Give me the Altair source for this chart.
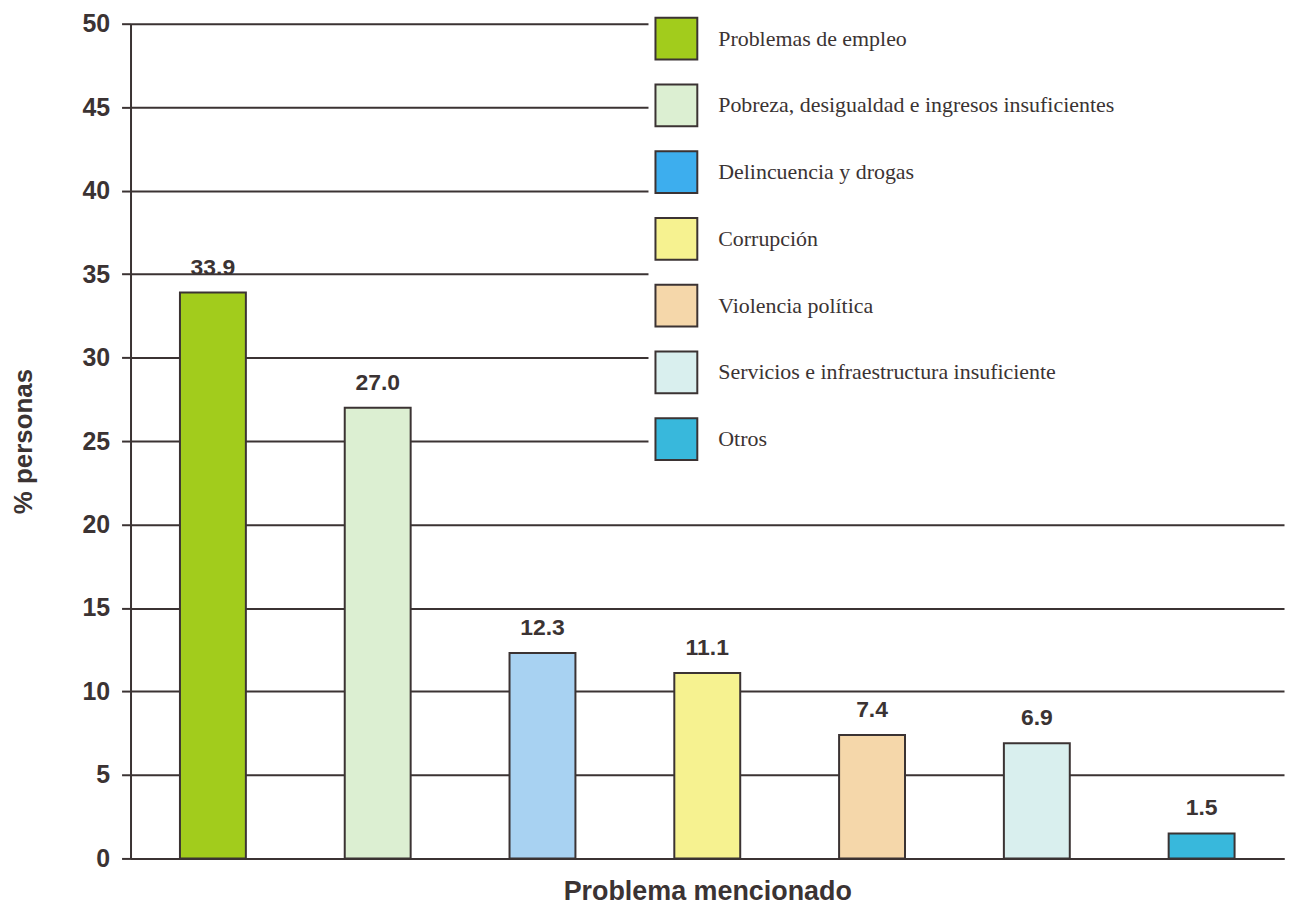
import altair as alt
import pandas as pd

categories = [
    "Problemas de empleo",
    "Pobreza, desigualdad e ingresos insuficientes",
    "Delincuencia y drogas",
    "Corrupción",
    "Violencia política",
    "Servicios e infraestructura insuficiente",
    "Otros",
]
values = [33.9, 27.0, 12.3, 11.1, 7.4, 6.9, 1.5]
bar_colors = ["#a2cc1c", "#dcefd2", "#a8d2f2", "#f6f290", "#f5d7aa", "#d9efee", "#38b8dc"]
legend_colors = ["#a2cc1c", "#dcefd2", "#3daeee", "#f6f290", "#f5d7aa", "#d9efee", "#38b8dc"]
labels = ["33.9", "27.0", "12.3", "11.1", "7.4", "6.9", "1.5"]

df = pd.DataFrame({"cat": categories, "val": values, "lab": labels})

ink = "#3b3333"

x = alt.X("cat:N", sort=categories,
          scale=alt.Scale(paddingInner=0.6, paddingOuter=0.3),
          axis=alt.Axis(title="Problema mencionado", labels=False, ticks=False,
                        domain=True, domainColor=ink, domainWidth=2,
                        titleFont="Liberation Sans", titleFontSize=27,
                        titleFontWeight="bold", titleColor=ink, titlePadding=20))
y = alt.Y("val:Q", scale=alt.Scale(domain=[0, 50], nice=False),
          axis=alt.Axis(title="% personas", values=list(range(0, 51, 5)),
                        grid=True, gridColor=ink, gridWidth=2, gridOpacity=1,
                        domainColor=ink, domainWidth=2, tickColor=ink, tickWidth=2,
                        tickSize=9, labelPadding=12, labelFont="Liberation Sans",
                        labelFontSize=25, labelFontWeight="bold", labelColor=ink,
                        titleFont="Liberation Sans", titleFontSize=26,
                        titleFontWeight="bold", titleColor=ink, titlePadding=46))

bars = alt.Chart(df).mark_bar(stroke=ink, strokeWidth=2).encode(
    x=x, y=y,
    color=alt.Color("cat:N", sort=categories,
                    scale=alt.Scale(domain=categories, range=bar_colors),
                    legend=None),
)

legend_layer = alt.Chart(df).mark_square(filled=True, opacity=0, size=1).encode(
    x=alt.X("cat:N", sort=categories), y="val:Q",
    color=alt.Color("cat:N", sort=categories,
                    scale=alt.Scale(domain=categories, range=legend_colors),
                    legend=alt.Legend(title=" ", titleOrient="right", titlePadding=165,
                                      orient="none", legendX=520, legendY=-13,
                                      symbolType="square", symbolSize=1764,
                                      symbolStrokeColor=ink, symbolStrokeWidth=2,
                                      symbolOpacity=1,
                                      labelFont="Liberation Serif", labelFontSize=22,
                                      labelColor=ink, labelOffset=20, labelLimit=600,
                                      rowPadding=17, padding=6, fillColor="white",
                                      strokeColor="white")),
)

text = alt.Chart(df).mark_text(baseline="bottom", dy=-13, font="Liberation Sans",
                               fontSize=23, fontWeight="bold", color=ink).encode(
    x=alt.X("cat:N", sort=categories), y="val:Q", text="lab:N")

chart = (bars + text + legend_layer).resolve_scale(color="independent").properties(
    width=1158, height=838, padding={"top": 0, "left": 2, "right": 0, "bottom": 0},
    background="white").configure_view(stroke=None)

chart.save("out.html", embed_options={"renderer": "svg", "actions": False})
